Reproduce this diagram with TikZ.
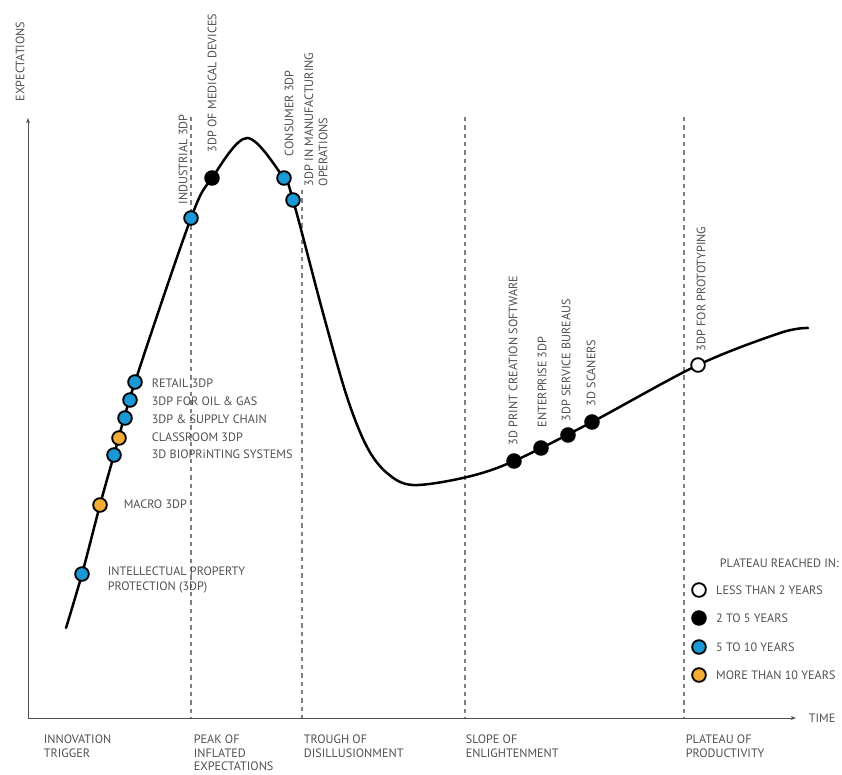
\documentclass[tikz,border=0pt]{standalone}
\usepackage{fontspec}
\setmainfont{PT Sans}
\usetikzlibrary{positioning,arrows.meta}
\definecolor{dotblue}{RGB}{27,152,214}
\definecolor{dotorange}{RGB}{243,172,52}
\definecolor{txtgray}{RGB}{80,80,80}

\begin{document}
\begin{tikzpicture}[x=0.03cm,y=-0.03cm,
  lbl/.style={text=txtgray, font=\fontsize{10.4}{12.2}\selectfont, inner sep=0.5pt, align=left},
  hlbl/.style={lbl, anchor=west},
  vlbl/.style={lbl, rotate=90, anchor=west},
  phaselbl/.style={lbl, anchor=north west, font=\fontsize{10.4}{11.6}\selectfont},
  dot/.style={circle, draw=black, line width=0.55mm, minimum size=4.1mm, inner sep=0pt},
  bluedot/.style={dot, fill=dotblue},
  orangedot/.style={dot, fill=dotorange},
  blackdot/.style={dot, fill=black},
  whitedot/.style={dot, fill=white},
  phase/.style={draw=gray, line width=0.35mm, dash pattern=on 1.3mm off 1.2mm},
  axis/.style={draw=txtgray, line width=0.3mm, -{Stealth[length=1.6mm, width=1.2mm]}}]
\useasboundingbox (0,0) rectangle (842,774);

\draw[phase] (191,117) -- (191,718);
\draw[phase] (302,190) -- (302,718);
\draw[phase] (465,117) -- (465,718);
\draw[phase] (684,117) -- (684,718);

\coordinate (o) at (28,718);
\draw[axis] (o) -- (28,118);
\draw[axis] (o) -- (796,718);
\node[vlbl] (expect) at (20,102) {EXPECTATIONS};
\node[hlbl] (time) at (808,718) {TIME};

\draw[line width=0.75mm, line cap=round] plot[smooth, tension=0.55] coordinates {(66,628) (82,574) (100,505) (114,455) (135,382) (191,218) (212,178) (247,138) (283,177) (293,200) (323,313) (347,397) (367,447) (387,473) (413,485) (467,477) (514,461) (592,422) (698,365) (780,333) (808,328)};

\node[bluedot] (ipp) at (82,574) {};
\node[orangedot] (macro) at (100,505) {};
\node[bluedot] (bio) at (114,455) {};
\node[orangedot] (class) at (119,438) {};
\node[bluedot] (supply) at (125,418) {};
\node[bluedot] (oil) at (130,400) {};
\node[bluedot] (retail) at (135,382) {};
\node[bluedot] (indus) at (191,218) {};
\node[blackdot] (medic) at (212,178) {};
\node[bluedot] (consum) at (284,178) {};
\node[bluedot] (manuf) at (293,200) {};
\node[blackdot] (creat) at (514,461) {};
\node[blackdot] (enterp) at (541,448) {};
\node[blackdot] (bureau) at (568,435) {};
\node[blackdot] (scan) at (592,422) {};
\node[whitedot] (proto) at (698,365) {};

\node[hlbl] (tipp) at (107,580) {INTELLECTUAL PROPERTY\\PROTECTION (3DP)};
\node[hlbl] (tmacro) at (123,504) {MACRO 3DP};
\node[hlbl] (tbio) at (151,454) {3D BIOPRiNTING SYSTEMS};
\node[hlbl] (tclass) at (151,437) {CLASSROOM 3DP};
\node[hlbl] (tsupply) at (151,419) {3DP \& SUPPLY CHAIN};
\node[hlbl] (toil) at (151,401) {3DP FOR OIL \& GAS};
\node[hlbl] (tretail) at (151,383) {RETAIL 3DP};

\node[vlbl] (tindus) at (183,205) {INDUSTRIAL 3DP};
\node[vlbl] (tmedic) at (212,153) {3DP OF MEDICAL DEVICES};
\node[vlbl] (tconsum) at (289,157) {CONSUMER 3DP};
\node[vlbl] (tmanuf) at (316,187) {3DP IN MANUFACTURING\\OPERATIONS};
\node[vlbl] (tcreat) at (513,446) {3D PRINT CREATION SOFTWARE};
\node[vlbl] (tenterp) at (542,428) {ENTERPRISE 3DP};
\node[vlbl] (tbureau) at (566,422) {3DP SERVICE BUREAUS};
\node[vlbl] (tscan) at (591,407) {3D SCANERS};
\node[vlbl] (tproto) at (701,352) {3DP FOR PROTOTYPING};

\node[phaselbl] (trigger) at (43,734) {INNOVATION\\TRIGGER};
\node[phaselbl] (peak) at (193,734) {PEAK OF\\INFLATED\\EXPECTATIONS};
\node[phaselbl] (trough) at (303,734) {TROUGH OF\\DISILLUSIONMENT};
\node[phaselbl] (slope) at (465,734) {SLOPE OF\\ENLIGHTENMENT};
\node[phaselbl] (plateau) at (685,734) {PLATEAU OF\\PRODUCTIVITY};

\node[hlbl] (legend) at (719,563) {PLATEAU REACHED IN:};
\node[whitedot] (lwhite) at (699,590) {};
\node[blackdot] (lblack) at (699,618) {};
\node[bluedot] (lblue) at (699,647) {};
\node[orangedot] (lorange) at (699,675) {};
\node[hlbl, right=2.6mm of lwhite] {LESS THAN 2 YEARS};
\node[hlbl, right=2.6mm of lblack] {2 TO 5 YEARS};
\node[hlbl, right=2.6mm of lblue] {5 TO 10 YEARS};
\node[hlbl, right=2.6mm of lorange] {MORE THAN 10 YEARS};

\end{tikzpicture}
\end{document}
